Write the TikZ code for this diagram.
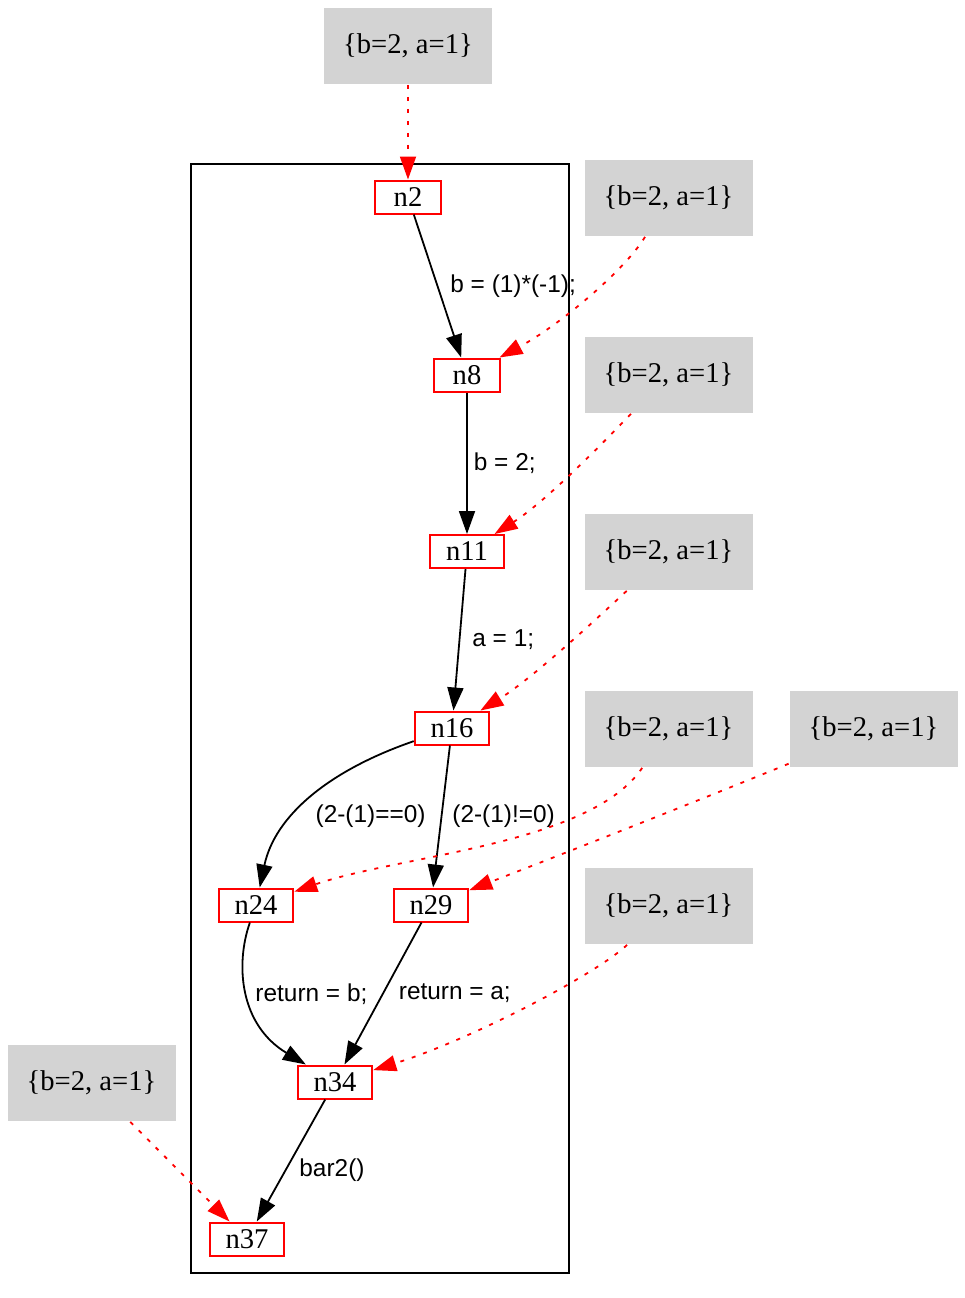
\documentclass[tikz,border=0pt]{standalone}
\usepackage{fontspec}
\setmainfont{Liberation Serif}
\newfontfamily\lblfont{Liberation Sans}
\usepackage{tikz}
\usetikzlibrary{shapes, arrows.meta}

\definecolor{boxgray}{HTML}{D3D3D3}

\begin{document}
\begin{tikzpicture}[->, >={Triangle[length=11.5pt,width=8pt]}, line width=0.9pt, x=0.5pt, y=-0.5pt]
\tikzstyle{block}=[draw=red, rectangle, line width=1pt, fill=white, text=black, font=\fontsize{14.3}{16}\selectfont, minimum width=33pt, minimum height=16.5pt, inner xsep=7.9pt, inner ysep=0pt]
\tikzstyle{state}=[rectangle, fill=boxgray, draw=none, font=\fontsize{14.3}{16}\selectfont, minimum width=84pt, minimum height=38pt, inner sep=0pt]
\tikzstyle{lbl}=[font=\lblfont\fontsize{12.2}{14}\selectfont, inner sep=0pt, anchor=west]
\tikzstyle{link}=[red, dash pattern=on 2pt off 4pt]

\useasboundingbox (0,0) rectangle (965,1298);

% cluster
\draw[-, line width=0.8pt] (191,164) rectangle (569,1273);

\node[block]    (n2)  at (408,197)   {n2};
\node[block]    (n8)  at (467,375)   {n8};
\node[block]    (n11) at (467,551.5) {n11};
\node[block]    (n16) at (452,728)   {n16};
\node[block]    (n24) at (256,905)   {n24};
\node[block]    (n29) at (431,905)   {n29};
\node[block]    (n34) at (335,1082)  {n34};
\node[block]    (n37) at (247,1239)  {n37};

\node[state]    (s2)  at (408,46)    {\{b=2, a=1\}};
\node[state]    (s8)  at (668.5,198) {\{b=2, a=1\}};
\node[state]    (s11) at (668.5,375) {\{b=2, a=1\}};
\node[state]    (s16) at (668.5,552) {\{b=2, a=1\}};
\node[state]    (s24) at (668.5,729) {\{b=2, a=1\}};
\node[state]    (s29) at (873.5,729) {\{b=2, a=1\}};
\node[state]    (s34) at (668.5,906) {\{b=2, a=1\}};
\node[state]    (s37) at (91.5,1083) {\{b=2, a=1\}};

\path
(n2)  edge  node[lbl, pos=0.5, xshift=6pt]   {b = (1)*(-1);}  (n8)
(n8)  edge  node[lbl, pos=0.5, xshift=3pt]   {b = 2;}         (n11)
(n11) edge  node[lbl, pos=0.5, xshift=6pt]   {a = 1;}         (n16)
(n16) edge  node[lbl, pos=0.5, xshift=5pt]   {(2-(1)!=0)}     (n29)
(n29) edge  node[lbl, pos=0.5, xshift=7.5pt] {return = a;}    (n34)
(n34) edge  node[lbl, pos=0.58, xshift=6.5pt] {bar2()}        (n37);

\draw (n16) .. controls (330,770) and (275,815) .. node[lbl, pos=0.62, xshift=10.5pt] {(2-(1)==0)} (n24);
\draw (n24) .. controls (235,965) and (240,1025) .. node[lbl, pos=0.5, xshift=3.5pt] {return = b;} (n34);

% states
\draw[link] (s2) -- (n2);
\draw[link] (s8)  .. controls (625,270) and (560,325)  .. (n8);
\draw[link] (s11) .. controls (600,446) and (545,502)  .. (n11);
\draw[link] (s16) .. controls (590,625) and (530,680)  .. (n16);
\draw[link] (s24) .. controls (590,845) and (400,855)  .. (n24);
\draw[link] (s29) .. controls (700,800) and (560,855)  .. (n29);
\draw[link] (s34) .. controls (595,975) and (470,1040) .. (n34);
\draw[link] (s37) -- (n37);

\end{tikzpicture}
\end{document}
